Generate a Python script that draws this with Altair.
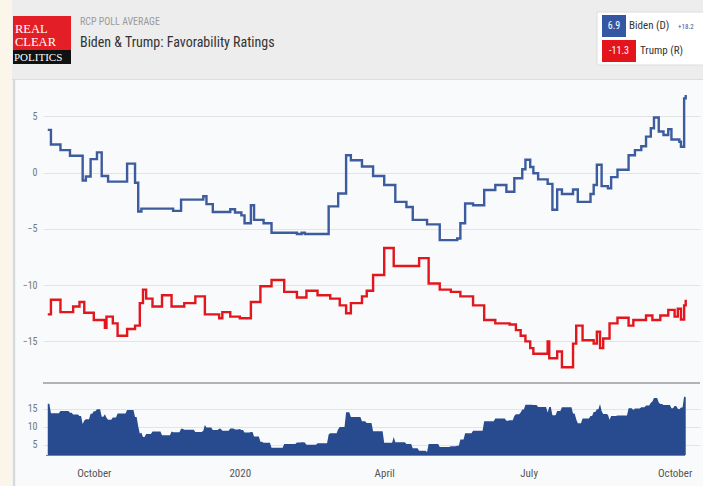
import bisect
import altair as alt
import pandas as pd

# ---- data (days after 2019-10-01, value) ----
biden_days = [-29, -27, -21, -15, -7, -5, -2, 2, 5, 9, 21, 26, 28, 30, 50, 55, 69, 71, 75, 86,
              89, 93, 95, 99, 101, 107, 112, 128, 131, 133, 148, 154, 159, 162, 169, 176, 183, 190, 197, 201,
              210, 218, 229, 231, 234, 239, 246, 253, 260, 265, 270, 272, 275, 277, 280, 286, 289, 292, 295, 302,
              305, 313, 315, 317, 320, 324, 326, 330, 337, 341, 345, 348, 351, 353, 356, 359, 362, 364, 369, 370,
              372, 373]
biden_vals = [3.8, 2.5, 2.0, 1.5, -0.7, -0.35, 1.2, 1.8, -0.3, -0.8, 0.8, -0.9, -3.45, -3.2, -3.4, -2.4, -2.1, -2.8, -3.5, -3.25,
              -3.55, -3.8, -4.5, -2.9, -4.2, -4.5, -5.35, -5.45, -5.35, -5.45, -3.0, -1.85, 1.55, 1.1, 0.55, -0.3, -1.1, -2.6, -3.05, -4.2,
              -4.6, -6.0, -5.85, -4.5, -2.75, -2.9, -1.55, -1.1, -1.7, -0.5, 0.3, 1.15, 0.5, -0.05, -0.6, -1.0, -3.3, -1.5, -1.9, -1.5,
              -2.6, -1.9, -1.1, 0.7, -1.2, -1.4, -0.4, 0.25, 1.55, 2.0, 2.35, 3.2, 3.95, 4.9, 3.65, 3.35, 3.85, 2.95, 2.75, 2.3,
              6.6, 6.9]

trump_days = [-29, -27, -21, -13, -9, -6, 0, 7, 8, 12, 15, 21, 26, 29, 31, 33, 37, 43, 49, 57,
              64, 70, 79, 81, 86, 92, 99, 105, 112, 120, 128, 134, 141, 149, 155, 159, 162, 169, 172, 176,
              183, 189, 205, 211, 218, 225, 231, 239, 246, 253, 262, 266, 269, 272, 275, 277, 286, 287, 292, 295,
              302, 304, 308, 315, 317, 319, 321, 325, 330, 337, 340, 348, 352, 357, 362, 366, 368, 370, 372, 373]
trump_vals = [-12.6, -11.3, -12.4, -11.9, -11.5, -12.45, -13.1, -13.8, -12.8, -13.4, -14.5, -13.9, -13.6, -11.6, -10.4, -11.2, -11.9, -10.9, -11.9, -11.6,
              -11.0, -12.6, -12.95, -12.4, -12.8, -12.95, -11.5, -10.1, -9.55, -10.6, -11.1, -10.5, -10.9, -11.2, -11.8, -12.5, -11.6, -11.0, -10.5, -9.1,
              -6.7, -8.3, -7.6, -9.85, -10.4, -10.6, -11.0, -11.8, -13.1, -13.4, -13.5, -14.0, -14.5, -15.0, -15.6, -16.1, -15.0, -16.5, -15.9, -17.3,
              -15.2, -13.6, -14.9, -15.2, -14.15, -15.6, -14.75, -13.4, -12.9, -13.6, -13.1, -12.7, -13.1, -12.7, -12.2, -12.8, -12.1, -13.05, -11.8, -11.3]

series_names = ["Biden", "Trump"]
series_colors = ["#3d5c9e", "#e3161e"]
tick_years_months = [(2019, 10), (2020, 1), (2020, 4), (2020, 7), (2020, 10)]
main_ticks = [5, 0, -5, -10, -15]
spread_ticks = [5, 10, 15]

BASE = pd.Timestamp("2019-10-01")


def to_date(d):
    return (BASE + pd.Timedelta(days=d)).strftime("%Y-%m-%d")


lines = pd.DataFrame(
    [{"date": to_date(d), "value": v, "series": "Biden"} for d, v in zip(biden_days, biden_vals)]
    + [{"date": to_date(d), "value": v, "series": "Trump"} for d, v in zip(trump_days, trump_vals)]
)

# spread (Biden minus Trump) of the two daily step series: each level is held
# from its change day to the day before the next change (daily polling data)
all_days = sorted(set(biden_days) | set(trump_days))
rows = []
for i, d in enumerate(all_days):
    b = biden_vals[bisect.bisect_right(biden_days, d) - 1]
    t = trump_vals[bisect.bisect_right(trump_days, d) - 1]
    s = round(b - t, 2)
    rows.append({"date": to_date(d), "spread": s})
    if i + 1 < len(all_days) and all_days[i + 1] - 1 > d:
        rows.append({"date": to_date(all_days[i + 1] - 1), "spread": s})
spread = pd.DataFrame(rows)

# ---- layout (pixels of the 703x486 page) ----
OX, OY = 43, 86            # plot-area origin
W, H = 657, 369            # plot area: main panel + spread panel
MAIN_BOTTOM = 297          # separator line (page y 383)
SPREAD_TOP, SPREAD_BOTTOM = 299, 369

FONT = "Liberation Sans Narrow, Arial Narrow, Roboto Condensed, DejaVu Sans Condensed, sans-serif"
SERIF = "Liberation Serif, DejaVu Serif, serif"
AREA_BLUE = "#284a8f"

x_scale = alt.Scale(type="utc",
                    domain=[alt.DateTime(year=2019, month=8, date=30, utc=True),
                            alt.DateTime(year=2020, month=10, date=17, utc=True)])
x_axis = alt.Axis(values=[alt.DateTime(year=y, month=m, date=1, utc=True) for y, m in tick_years_months],
                  labelExpr="utcmonth(datum.value) == 0 ? utcFormat(datum.value, '%Y') : utcFormat(datum.value, '%B')",
                  grid=False, domain=False, ticks=False, labelPadding=12, labelFontSize=11,
                  labelColor="#555555", labelFont=FONT, title="")

main_lines = alt.Chart(lines).mark_line(interpolate="step-after", strokeWidth=2.4).encode(
    x=alt.X("date:T", scale=x_scale, axis=x_axis),
    y=alt.Y("value:Q",
            scale=alt.Scale(domain=[-18.7, 7.7], range=[MAIN_BOTTOM, 0], zero=False, nice=False),
            axis=alt.Axis(values=main_ticks, orient="left", grid=True, gridColor="#e4e4e4", domain=False,
                          ticks=False, labelPadding=6, labelFontSize=10, labelColor="#777777",
                          labelFont=FONT, title="")),
    color=alt.Color("series:N", scale=alt.Scale(domain=series_names, range=series_colors), legend=None),
)

spread_area = alt.Chart(spread).mark_area(color=AREA_BLUE, opacity=1, fillOpacity=1).encode(
    x=alt.X("date:T", scale=x_scale, axis=x_axis),
    y=alt.Y("spread:Q",
            scale=alt.Scale(domain=[2.2, 21.6], range=[SPREAD_BOTTOM, SPREAD_TOP], zero=False, nice=False),
            axis=alt.Axis(values=spread_ticks, orient="left", grid=True, gridColor="#e4e4e4", domain=False,
                          ticks=False, labelPadding=6, labelFontSize=10, labelColor="#777777",
                          labelFont=FONT, title="")),
    y2=alt.datum(2.2),
)

deco = alt.Chart(pd.DataFrame({"k": [0]}))


def rect(x1, x2, y1, y2, fill, stroke=None):
    kw = {"fill": fill}
    if stroke:
        kw.update(stroke=stroke, strokeWidth=1)
    return deco.mark_rect(**kw).encode(x=alt.value(x1 - OX), x2=alt.value(x2 - OX),
                                       y=alt.value(y1 - OY), y2=alt.value(y2 - OY))


def text(t, x, y, size, color, font=FONT, align="left", weight="normal"):
    return deco.mark_text(text=t, align=align, baseline="middle", fontSize=size, color=color,
                          font=font, fontWeight=weight).encode(x=alt.value(x - OX), y=alt.value(y - OY))


def hline(x1, x2, y, color, width=1):
    return deco.mark_rule(color=color, strokeWidth=width).encode(
        x=alt.value(x1 - OX), x2=alt.value(x2 - OX), y=alt.value(y - OY))


def vline(x, y1, y2, color, width=1):
    return deco.mark_rule(color=color, strokeWidth=width).encode(
        x=alt.value(x - OX), y=alt.value(y1 - OY), y2=alt.value(y2 - OY))


b_last, t_last = biden_vals[-1], trump_vals[-1]

layers = [
    rect(0, 12, 0, 486, "#fcf6ea"),
    rect(12, 703, 0, 79, "#ededed"),
    hline(12, 703, 79.5, "#dedede", 1),
    vline(14, 79, 486, "#d9d9d9", 2.5),
    # logo
    rect(13, 71, 16, 51, "#e41e26"),
    rect(13, 71, 50, 64, "#111111"),
    text("REAL", 15, 29, 12.5, "#ffffff", SERIF),
    text("CLEAR", 15, 42, 12.5, "#ffffff", SERIF),
    text("POLITICS", 14, 57.5, 11, "#ffffff", SERIF),
    # titles
    text("RCP POLL AVERAGE", 80, 22, 10, "#9a9a9a"),
    text("Biden & Trump: Favorability Ratings", 80, 43, 14, "#333333"),
    # legend box
    rect(597, 706, 12, 65, "#ffffff", "#dddddd"),
    rect(602, 626, 15, 37, "#3556a3"),
    text(f"{b_last:.1f}", 614, 26, 10, "#ffffff", align="center"),
    text("Biden (D)", 629, 26, 11, "#333333"),
    text(f"+{b_last - t_last:.1f}", 678, 27, 7, "#3556a3"),
    rect(602, 636, 40, 62, "#e4141c"),
    text(f"{t_last:.1f}", 619, 51, 10, "#ffffff", align="center"),
    text("Trump (R)", 640, 51, 11, "#333333"),
    # separator between the panels
    hline(43, 700, 383, "#6a6a6a", 1.2),
    # data
    main_lines,
    spread_area,
    # thin red base line under the spread area
    hline(46, 685, 455.5, "#e05a5a", 1),
]

chart = alt.layer(*layers).resolve_scale(y="independent").properties(
    width=W, height=H,
    autosize=alt.AutoSizeParams(type="none"),
    padding={"left": OX, "top": OY, "right": 703 - OX - W, "bottom": 486 - OY - H},
    background="#f9fafc",
).configure_view(strokeWidth=0)

chart.save("out.html", embed_options={"renderer": "svg", "actions": False})
